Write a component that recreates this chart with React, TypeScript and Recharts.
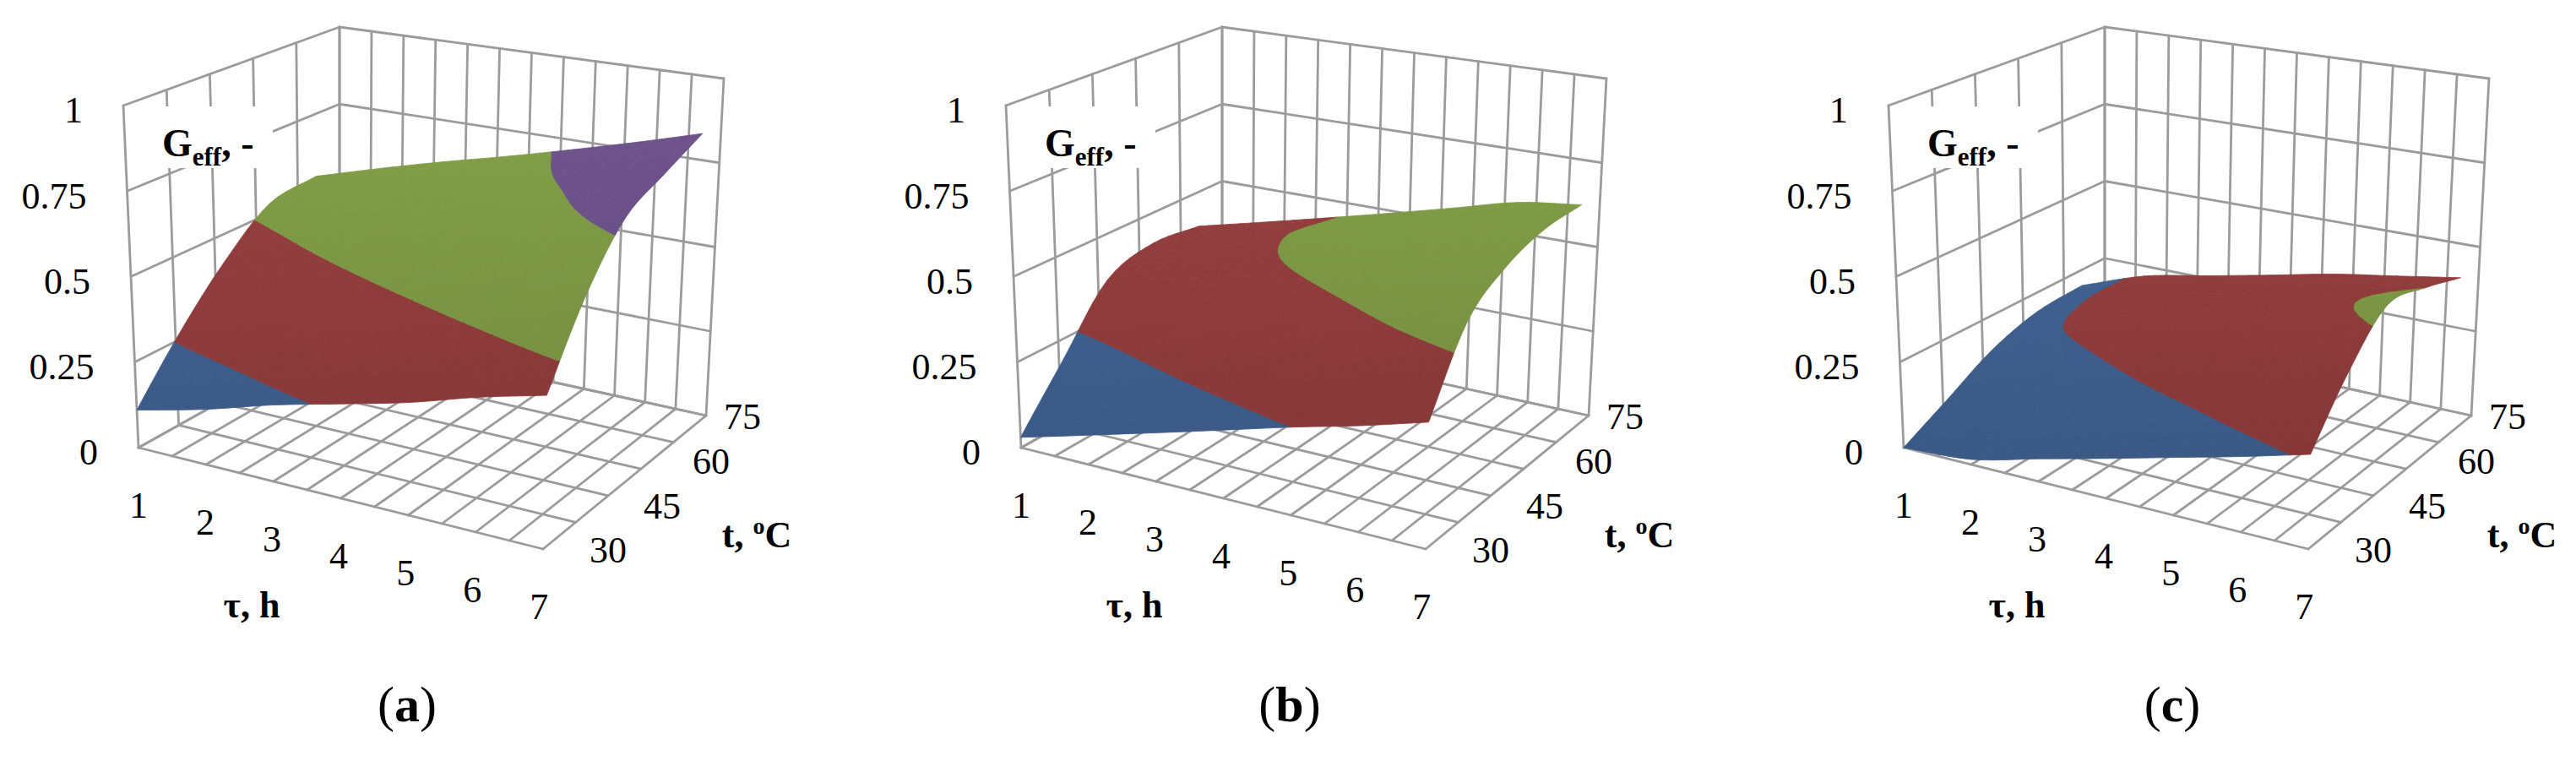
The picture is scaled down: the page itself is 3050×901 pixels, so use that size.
import React from "react";
import { ScatterChart, Scatter, XAxis, YAxis } from "recharts";

const W = 3050;
const H = 901;

// measured points of the surfaces
const tau = [1, 2, 3, 4, 5, 6, 7]; // τ, h
const temp = [30, 40, 50, 60, 70]; // t, °C

// G_eff read from the three surfaces, rows = temperature, columns = τ
const geffA = [
  [0.11, 0.16, 0.22, 0.27, 0.32, 0.38, 0.43],
  [0.27, 0.33, 0.39, 0.45, 0.51, 0.57, 0.635],
  [0.415, 0.48, 0.54, 0.6, 0.66, 0.72, 0.78],
  [0.53, 0.58, 0.63, 0.68, 0.73, 0.78, 0.83],
  [0.55, 0.61, 0.665, 0.715, 0.767, 0.82, 0.875],
];
const geffB = [
  [0.03, 0.085, 0.14, 0.195, 0.25, 0.3, 0.355],
  [0.19, 0.253, 0.316, 0.38, 0.443, 0.506, 0.563],
  [0.36, 0.409, 0.457, 0.506, 0.555, 0.604, 0.64],
  [0.405, 0.452, 0.499, 0.547, 0.595, 0.642, 0.67],
  [0.39, 0.44, 0.49, 0.54, 0.59, 0.64, 0.665],
];
const geffC = [
  [0.0, 0.015, 0.065, 0.114, 0.164, 0.213, 0.265],
  [0.07, 0.12, 0.19, 0.25, 0.3, 0.36, 0.42],
  [0.145, 0.24, 0.3, 0.36, 0.41, 0.47, 0.53],
  [0.19, 0.27, 0.32, 0.36, 0.41, 0.46, 0.5],
  [0.2, 0.27, 0.31, 0.35, 0.39, 0.42, 0.45],
];

// axes of the box
const tauAxis = [1, 7];
const tempAxis = [30, 75];
const tauTicks = [1, 2, 3, 4, 5, 6, 7];
const tempTicks = [30, 45, 60, 75];
const geffTicks = [0, 0.25, 0.5, 0.75, 1];
const geffTickLabels = ["0", "0.25", "0.5", "0.75", "1"];
const tauGridLines = [1, 1.5, 2, 2.5, 3, 3.5, 4, 4.5, 5, 5.5, 6, 6.5, 7];
const tempGridLines = [30, 39, 48, 57, 66, 75];

const panels = [
  { letter: "a", values: geffA },
  { letter: "b", values: geffB },
  { letter: "c", values: geffC },
];

const bandEdges = [0.25, 0.5, 0.75];
const bandColors = ["#3E5E8D", "#8E3B3B", "#7A9443", "#674E82"];
const GRID = "#9B9B9B";
const FONT = "'Liberation Serif', 'DejaVu Serif', serif";

// projected corners of the box of panel (a): key = tau / temp / G (0 = min, 1 = max)
const PANEL_STEP = 1045;
const BOX: Record<string, [number, number]> = {
  "000": [164, 530],
  "100": [643, 650],
  "010": [402, 397],
  "110": [836, 492],
  "001": [146, 125],
  "101": [653, 227],
  "011": [402, 32],
  "111": [857, 93],
};

function project(p: number, ta: number, tb: number, g: number): [number, number] {
  const u = (ta - tauAxis[0]) / (tauAxis[1] - tauAxis[0]);
  const v = (tb - tempAxis[0]) / (tempAxis[1] - tempAxis[0]);
  let x = 0;
  let y = 0;
  for (const i of [0, 1])
    for (const j of [0, 1])
      for (const k of [0, 1]) {
        const wt = (i ? u : 1 - u) * (j ? v : 1 - v) * (k ? g : 1 - g);
        const c = BOX[`${i}${j}${k}`];
        x += wt * c[0];
        y += wt * c[1];
      }
  return [x + p * PANEL_STEP, y];
}

// smooth (Catmull-Rom) reading of the surface between the measured points
function cr(p0: number, p1: number, p2: number, p3: number, s: number) {
  return (
    0.5 *
    (2 * p1 + (p2 - p0) * s + (2 * p0 - 5 * p1 + 4 * p2 - p3) * s * s + (3 * p1 - p0 - 3 * p2 + p3) * s * s * s)
  );
}
function pick(arr: number[], i: number) {
  if (i < 0) return 2 * arr[0] - arr[1];
  if (i > arr.length - 1) return 2 * arr[arr.length - 1] - arr[arr.length - 2];
  return arr[i];
}
function locate(axis: number[], x: number): [number, number] {
  let i = 0;
  while (i < axis.length - 2 && x > axis[i + 1]) i++;
  return [i, (x - axis[i]) / (axis[i + 1] - axis[i])];
}
function sample(vals: number[][], ta: number, tb: number) {
  const [i, fu] = locate(tau, ta);
  const [j, fv] = locate(temp, tb);
  const rowAt = (r: number[]) => cr(pick(r, i - 1), pick(r, i), pick(r, i + 1), pick(r, i + 2), fu);
  const col = vals.map(rowAt);
  return Math.max(0, cr(pick(col, j - 1), pick(col, j), pick(col, j + 1), pick(col, j + 2), fv));
}

type V3 = { a: number; b: number; g: number };
function clip(poly: V3[], level: number, above: boolean): V3[] {
  const out: V3[] = [];
  for (let i = 0; i < poly.length; i++) {
    const p = poly[i];
    const q = poly[(i + 1) % poly.length];
    const pin = above ? p.g >= level : p.g <= level;
    const qin = above ? q.g >= level : q.g <= level;
    if (pin) out.push(p);
    if (pin !== qin) {
      const f = (level - p.g) / (q.g - p.g);
      out.push({ a: p.a + f * (q.a - p.a), b: p.b + f * (q.b - p.b), g: level });
    }
  }
  return out;
}

function shade(hex: string, f: number) {
  const n = parseInt(hex.slice(1), 16);
  const c = [(n >> 16) & 255, (n >> 8) & 255, n & 255].map((x) => Math.max(0, Math.min(255, Math.round(x * f))));
  return `rgb(${c[0]},${c[1]},${c[2]})`;
}

// every anchor goes through the chart's scales as a scatter point
type Pt = { X: number; Y: number; id: number };
const points: Pt[] = [];
const addPt = (xy: [number, number]) => {
  points.push({ X: xy[0], Y: xy[1], id: points.length });
  return points.length - 1;
};

const segs: [number, number][] = [];
const polys: { ids: number[]; fill: string }[] = [];
const boxes: [number, number][] = [];
type TextItem = { id: number; kind: string; text: string };
const texts: TextItem[] = [];

const SUB = 6;
const fine = (arr: number[]) => {
  const out: number[] = [];
  for (let i = 0; i < arr.length - 1; i++)
    for (let s = 0; s < SUB; s++) out.push(arr[i] + ((arr[i + 1] - arr[i]) * s) / SUB);
  out.push(arr[arr.length - 1]);
  return out;
};
const fa = fine(tau);
const fb = fine(temp);

panels.forEach((panel, p) => {
  const seg = (a: [number, number], b: [number, number]) => segs.push([addPt(a), addPt(b)]);
  const [a0, a1] = tauAxis;
  const [t0, t1] = tempAxis;
  // floor
  tempGridLines.forEach((t) => seg(project(p, a0, t, 0), project(p, a1, t, 0)));
  tauGridLines.forEach((a) => seg(project(p, a, t0, 0), project(p, a, t1, 0)));
  // left wall
  geffTicks.forEach((g) => seg(project(p, a0, t0, g), project(p, a0, t1, g)));
  tempGridLines.forEach((t) => seg(project(p, a0, t, 0), project(p, a0, t, 1)));
  // back wall
  geffTicks.forEach((g) => seg(project(p, a0, t1, g), project(p, a1, t1, g)));
  tauGridLines.forEach((a) => seg(project(p, a, t1, 0), project(p, a, t1, 1)));

  // surface, far pieces first
  const quads: { k: number; m: number; depth: number }[] = [];
  for (let k = 0; k < fa.length - 1; k++)
    for (let m = 0; m < fb.length - 1; m++) {
      const c = project(p, (fa[k] + fa[k + 1]) / 2, (fb[m] + fb[m + 1]) / 2, 0);
      quads.push({ k, m, depth: c[1] });
    }
  quads.sort((q1, q2) => q1.depth - q2.depth);
  quads.forEach(({ k, m }) => {
    const corners: V3[] = [
      [fa[k], fb[m]],
      [fa[k + 1], fb[m]],
      [fa[k + 1], fb[m + 1]],
      [fa[k], fb[m + 1]],
    ].map(([a, b]) => ({ a, b, g: sample(panel.values, a, b) }));
    for (let band = 0; band < bandColors.length; band++) {
      let poly = corners;
      if (band > 0) poly = clip(poly, bandEdges[band - 1], true);
      if (poly.length >= 3 && band < bandEdges.length) poly = clip(poly, bandEdges[band], false);
      if (poly.length < 3) continue;
      const xy = poly.map((v) => project(p, v.a, v.b, v.g));
      const cy = xy.reduce((s, q) => s + q[1], 0) / xy.length;
      const f = 1.07 - 0.13 * Math.max(0, Math.min(1, (cy - 150) / 400));
      polys.push({ ids: xy.map(addPt), fill: shade(bandColors[band], f) });
    }
  });

  // labels
  const ox = p * PANEL_STEP;
  boxes.push([addPt([ox + 152, 126]), addPt([ox + 323, 199])]);
  texts.push({ id: addPt([ox + 192, 185]), kind: "geff", text: "" });
  geffTicks.forEach((g, i) => {
    const [x, y] = project(p, a0, t0, g);
    texts.push({ id: addPt([x - 48, y + 5]), kind: "end", text: geffTickLabels[i] });
  });
  tauTicks.forEach((a) => {
    const [x, y] = project(p, a, t0, 0);
    texts.push({ id: addPt([x - (a - a0) * 0.8, y + 68]), kind: "mid", text: String(a) });
  });
  tempTicks.forEach((t) => {
    const v = (t - t0) / (t1 - t0);
    const [x, y] = project(p, a1, t, 0);
    texts.push({ id: addPt([x + 77 - 34 * v ** 4, y + 1]), kind: "mid", text: String(t) });
  });
  texts.push({ id: addPt([ox + 298, 716]), kind: "tau", text: "τ, h" });
  texts.push({ id: addPt([ox + 896, 633]), kind: "temp", text: "" });
  texts.push({ id: addPt([ox + 482, 854]), kind: "panel", text: panel.letter });
});
const LAST = addPt([0, 0]);

const px: number[] = [];
const py: number[] = [];

function drawText(t: TextItem, i: number) {
  const x = px[t.id];
  const y = py[t.id];
  const common = { x, y, fontFamily: FONT, fill: "#000", style: { fontFamily: FONT } };
  switch (t.kind) {
    case "end":
      return (
        <text key={`t${i}`} {...common} fontSize={44} textAnchor="end" dy="0.35em">
          {t.text}
        </text>
      );
    case "mid":
      return (
        <text key={`t${i}`} {...common} fontSize={44} textAnchor="middle" dy="0.35em">
          {t.text}
        </text>
      );
    case "tau":
      return (
        <text key={`t${i}`} {...common} fontSize={44} fontWeight="bold" textAnchor="middle" dy="0.35em">
          {t.text}
        </text>
      );
    case "temp":
      return (
        <text key={`t${i}`} {...common} fontSize={44} fontWeight="bold" textAnchor="middle" dy="0.35em">
          t,{" "}
          <tspan fontSize={28} dy={-16}>
            o
          </tspan>
          <tspan dy={16}>C</tspan>
        </text>
      );
    case "geff":
      return (
        <text key={`t${i}`} {...common} fontSize={46} fontWeight="bold">
          G
          <tspan fontSize={31} dy={11}>
            eff
          </tspan>
          <tspan dy={-11}>, -</tspan>
        </text>
      );
    default:
      return (
        <text key={`t${i}`} {...common} fontSize={60} textAnchor="middle">
          (<tspan fontWeight="bold">{t.text}</tspan>)
        </text>
      );
  }
}

function drawScene() {
  return (
    <g>
      {segs.map(([a, b], i) => (
        <line
          key={`s${i}`}
          x1={px[a]}
          y1={py[a]}
          x2={px[b]}
          y2={py[b]}
          stroke={GRID}
          strokeWidth={2.8}
          strokeLinecap="round"
        />
      ))}
      {polys.map((pl, i) => (
        <polygon
          key={`p${i}`}
          points={pl.ids.map((id) => `${px[id]},${py[id]}`).join(" ")}
          fill={pl.fill}
          stroke={pl.fill}
          strokeWidth={0.8}
          strokeLinejoin="round"
        />
      ))}
      {boxes.map(([a, b], i) => (
        <rect key={`b${i}`} x={px[a]} y={py[a]} width={px[b] - px[a]} height={py[b] - py[a]} fill="#fff" />
      ))}
      {texts.map(drawText)}
    </g>
  );
}

const renderPoint = (props: any) => {
  const { cx, cy, payload } = props;
  px[payload.id] = cx;
  py[payload.id] = cy;
  if (payload.id !== LAST) return <g />;
  return drawScene();
};

export default function App() {
  return (
    <div style={{ position: "absolute", left: 0, top: 0, width: W, height: H, background: "#fff" }}>
      <ScatterChart width={W} height={H} margin={{ top: 0, right: 0, bottom: 0, left: 0 }}>
        <XAxis type="number" dataKey="X" domain={[0, W]} hide />
        <YAxis type="number" dataKey="Y" domain={[0, H]} reversed hide />
        <Scatter data={points} shape={renderPoint} isAnimationActive={false} />
      </ScatterChart>
    </div>
  );
}
